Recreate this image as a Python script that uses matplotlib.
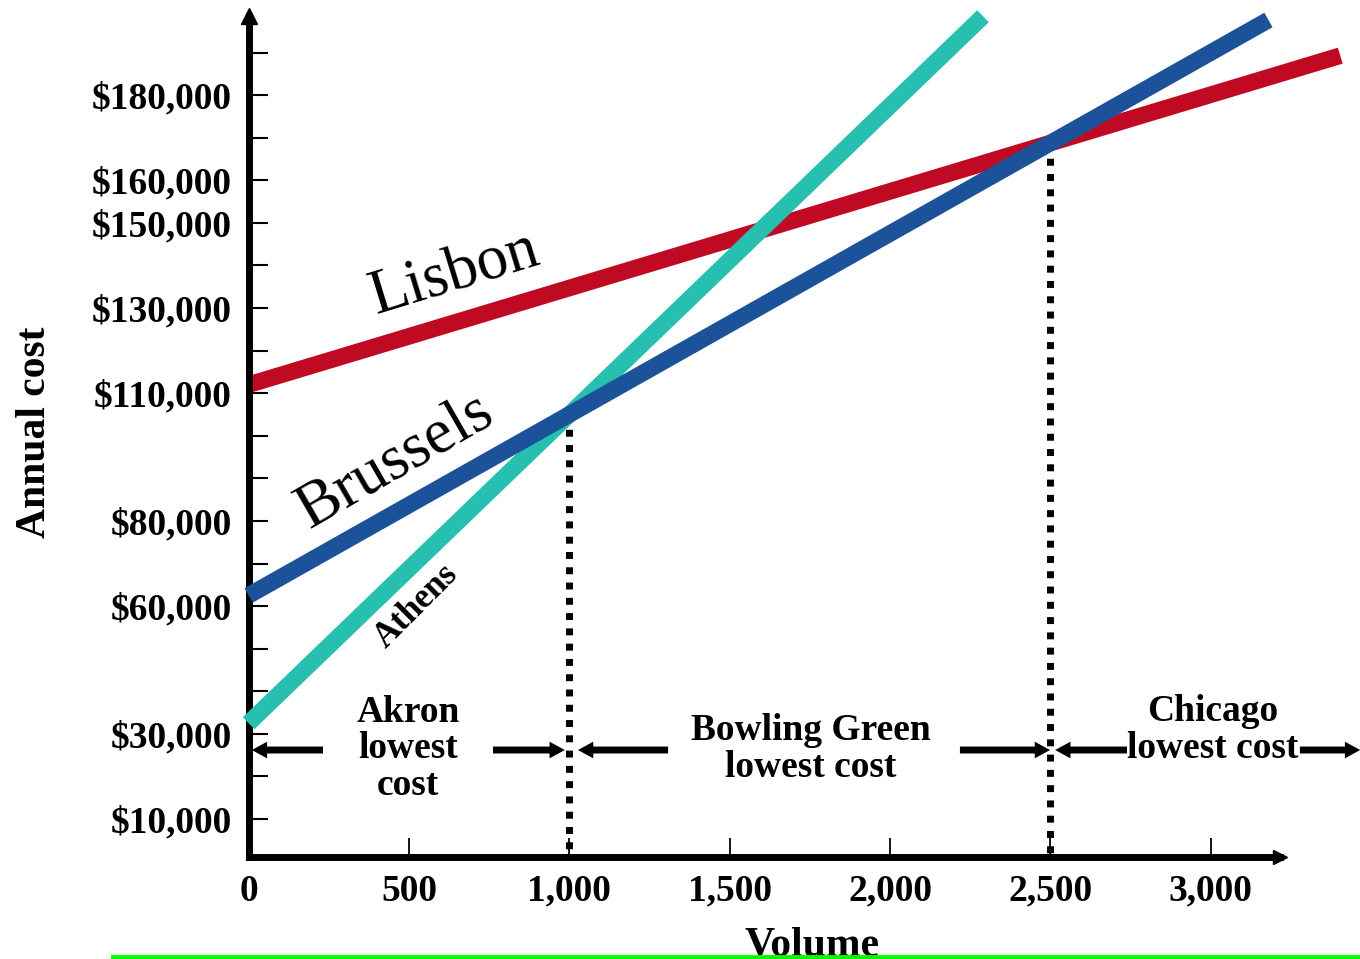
import numpy as np
import matplotlib
matplotlib.use('Agg')
import matplotlib.pyplot as plt
from matplotlib.lines import Line2D

plt.rcParams['font.family'] = ['Liberation Serif', 'DejaVu Serif']

# cost lines: fixed cost + variable cost per unit
sites = ['Athens', 'Lisbon', 'Brussels']
fixed_cost = [32500, 112000, 62500]
unit_cost = [72.5, 22.7, 42.5]
line_end = [2290, 3404, 3180]
colors = ['#26BFB0', '#C00A23', '#1B5299']

x_ticks = [0, 500, 1000, 1500, 2000, 2500, 3000]
x_labels = ['0', '500', '1,000', '1,500', '2,000', '2,500', '3,000']
y_ticks = list(range(10000, 200000, 10000))
y_labeled = {10000: '$10,000', 30000: '$30,000', 60000: '$60,000', 80000: '$80,000',
             110000: '$110,000', 130000: '$130,000', 150000: '$150,000',
             160000: '$160,000', 180000: '$180,000'}

regions = ['Akron\nlowest\ncost', 'Bowling Green\nlowest cost', 'Chicago\nlowest cost']
region_x = [497, 1753, 3007]
region_y = [26440, 26440, 30900]
# (tail, tip) of the range arrows
range_arrows = [(232, 10), (762, 986), (1308, 1027), (2218, 2499), (2739, 2515), (3278, 3466)]
arrow_level = 26200

fig = plt.figure(figsize=(13.6, 9.59), dpi=100)
ax = fig.add_axes([0.18279, 0.10636, 0.75838, 0.87696])
ax.set_xlim(0, 3216)
ax.set_ylim(1076, 198586)

for s in ['top', 'right']:
    ax.spines[s].set_visible(False)
for s in ['left', 'bottom']:
    ax.spines[s].set_linewidth(5)

ax.plot([0], [1], marker='^', ms=11.5, color='k', transform=ax.transAxes, clip_on=False)
ax.plot([1], [0], marker='>', ms=10, color='k', transform=ax.transAxes, clip_on=False)

ax.set_xticks(x_ticks)
ax.set_xticklabels(x_labels, fontsize=27, fontweight='bold')
ax.set_yticks(y_ticks)
ax.set_yticklabels([y_labeled.get(v, '') for v in y_ticks], fontsize=27, fontweight='bold')
ax.tick_params(axis='x', direction='in', length=14, width=1.3, pad=12)
ax.tick_params(axis='y', direction='in', length=14, width=1.5, pad=12)

# cost lines
zorders = [3, 2, 4]
for name, f, u, end, c, z in zip(sites, fixed_cost, unit_cost, line_end, colors, zorders):
    v = np.array([0, end])
    ax.plot(v, f + u * v, color=c, lw=12, solid_capstyle='butt', zorder=z, clip_on=False)

# crossover points
v1 = (fixed_cost[2] - fixed_cost[0]) / (unit_cost[0] - unit_cost[2])
v2 = (fixed_cost[1] - fixed_cost[2]) / (unit_cost[2] - unit_cost[1])
for v in [v1, v2]:
    c = fixed_cost[2] + unit_cost[2] * v
    ax.plot([v, v], [c, 1076], color='k', lw=5, linestyle=(0, (1, 1.2)), zorder=1.5, clip_on=False)

# line names
ax.text(644, 137760, 'Lisbon', fontsize=45, rotation=17, ha='center', va='center')
ax.text(456, 93840, 'Brussels', fontsize=46, rotation=30, ha='center', va='center')
ax.text(522, 60020, 'Athens', fontsize=25, fontweight='bold', rotation=45, ha='center', va='center')

for txt, x, y in zip(regions, region_x, region_y):
    ax.text(x, y, txt, fontsize=27, fontweight='bold', ha='center', va='center',
            multialignment='center', linespacing=1.05)

for tail, tip in range_arrows:
    ax.annotate('', xy=(tip, arrow_level), xytext=(tail, arrow_level), annotation_clip=False,
                arrowprops=dict(arrowstyle='simple,head_length=0.55,head_width=0.6,tail_width=0.25',
                                mutation_scale=20, lw=0, fc='k', ec='k', shrinkA=0, shrinkB=0))

fig.text(35 / 1360, 1 - 432 / 959, 'Annual cost', fontsize=30, fontweight='bold',
         rotation=90, ha='center', va='center')
fig.text(812 / 1360, 3 / 959, 'Volume', fontsize=30, fontweight='bold', ha='center', va='baseline')

fig.add_artist(Line2D([113 / 1360, 1], [2.5 / 959, 2.5 / 959], color='#00FF00', lw=3.5,
                      transform=fig.transFigure, zorder=10))

fig.savefig('out.png', dpi=100)
